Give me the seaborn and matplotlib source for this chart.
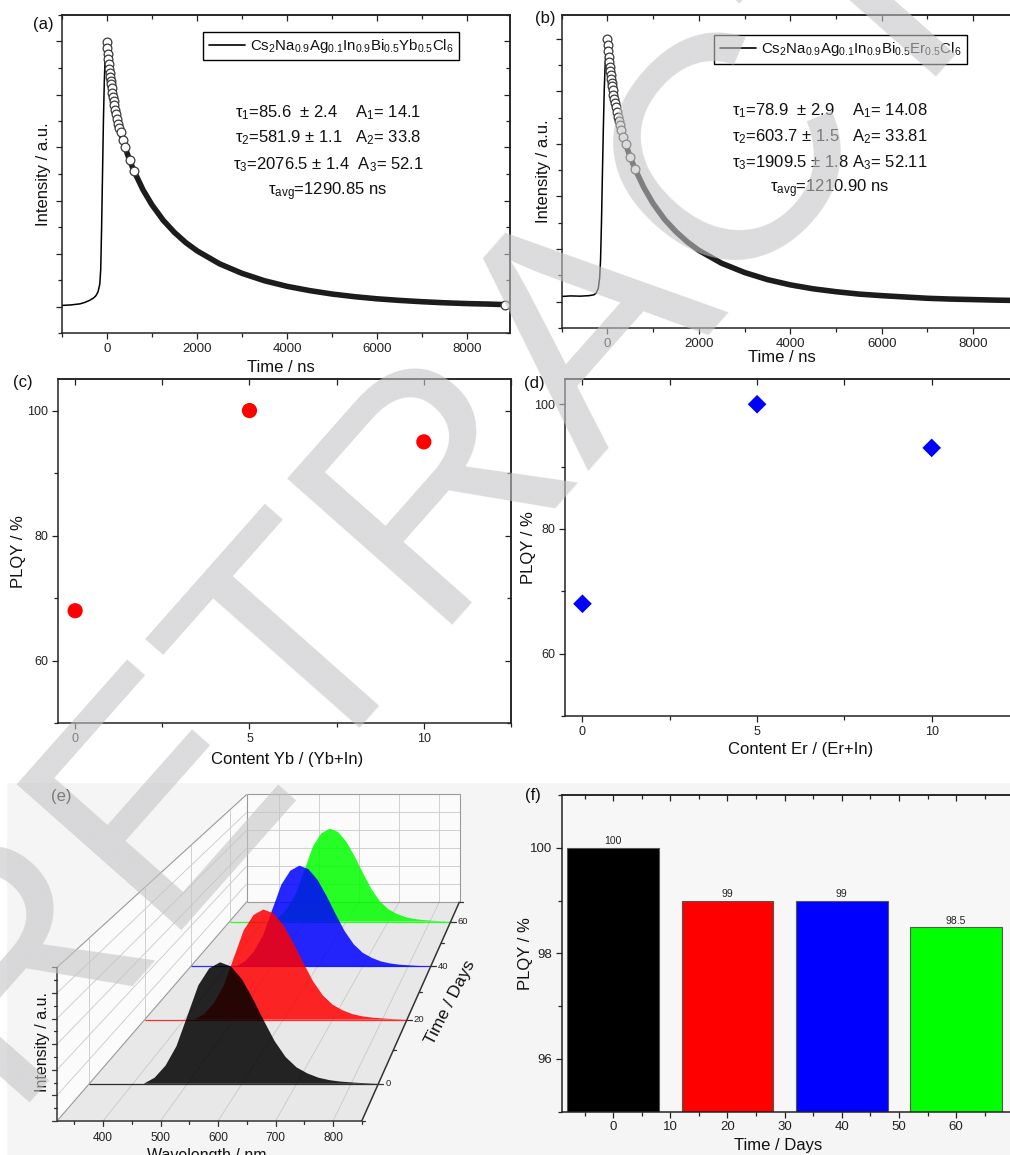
import numpy as np
import pandas as pd
import matplotlib
matplotlib.use("Agg")
import matplotlib.pyplot as plt
from matplotlib.lines import Line2D
from matplotlib.patches import Rectangle
from matplotlib.ticker import MultipleLocator, NullFormatter
import seaborn as sns

# ---------------- data ----------------
# (a)/(b) PL decay, intensity normalised to the peak
decay_time = [0, 10, 20, 30, 40, 50, 60, 70, 80, 90, 100, 115, 130, 145, 160, 180, 200, 225,
              250, 275, 300, 350, 400, 500, 600, 800, 1000, 1250, 1500, 1750, 2000, 2500, 3000,
              3500, 4000, 4500, 5000, 5500, 6000, 6500, 7000, 7500, 8000, 8500, 8850]

a_rise_time = [-1000, -800, -600, -500, -400, -300, -250, -200, -160, -140, -120, -100, -80, -60, -40, -20]
a_rise_int = [0.004, 0.006, 0.010, 0.015, 0.022, 0.032, 0.040, 0.055, 0.085, 0.14, 0.30, 0.50,
              0.70, 0.85, 0.95, 0.99]
a_decay_int = [1.0, 0.976, 0.954, 0.934, 0.915, 0.897, 0.881, 0.866, 0.851, 0.838, 0.825, 0.807,
               0.791, 0.775, 0.761, 0.743, 0.727, 0.707, 0.690, 0.673, 0.657, 0.628, 0.601,
               0.553, 0.511, 0.440, 0.383, 0.325, 0.279, 0.241, 0.210, 0.161, 0.125, 0.097,
               0.076, 0.060, 0.047, 0.037, 0.029, 0.023, 0.018, 0.014, 0.011, 0.009, 0.007]

b_rise_time = [-1000, -800, -600, -400, -300, -250, -200, -170, -150, -130, -110, -90, -70, -50, -30, -15]
b_rise_int = [0.020, 0.022, 0.021, 0.023, 0.026, 0.032, 0.05, 0.09, 0.16, 0.30, 0.48, 0.65, 0.80,
              0.90, 0.96, 0.99]
b_decay_int = [1.0, 0.975, 0.952, 0.931, 0.912, 0.894, 0.877, 0.861, 0.847, 0.833, 0.821, 0.803,
               0.787, 0.771, 0.757, 0.740, 0.723, 0.704, 0.687, 0.670, 0.654, 0.625, 0.598,
               0.549, 0.506, 0.433, 0.373, 0.313, 0.266, 0.227, 0.195, 0.146, 0.111, 0.084,
               0.064, 0.049, 0.038, 0.029, 0.023, 0.018, 0.013, 0.010, 0.008, 0.006, 0.005]

a_legend = r"Cs$_2$Na$_{0.9}$Ag$_{0.1}$In$_{0.9}$Bi$_{0.5}$Yb$_{0.5}$Cl$_6$"
b_legend = r"Cs$_2$Na$_{0.9}$Ag$_{0.1}$In$_{0.9}$Bi$_{0.5}$Er$_{0.5}$Cl$_6$"
a_fit = [r"τ$_1$=85.6  ± 2.4    A$_1$= 14.1",
         r"τ$_2$=581.9 ± 1.1   A$_2$= 33.8",
         r"τ$_3$=2076.5 ± 1.4  A$_3$= 52.1",
         r"τ$_{\mathrm{avg}}$=1290.85 ns"]
b_fit = [r"τ$_1$=78.9  ± 2.9    A$_1$= 14.08",
         r"τ$_2$=603.7 ± 1.5   A$_2$= 33.81",
         r"τ$_3$=1909.5 ± 1.8 A$_3$= 52.11",
         r"τ$_{\mathrm{avg}}$=1210.90 ns"]

# (c)/(d) PLQY vs dopant content
content = [0, 5, 10]
plqy_yb = [68, 100, 95]
plqy_er = [68, 100, 93]

# (e) emission spectra during storage (same shape for every day)
spec_days = [0, 20, 40, 60]
spec_colors = ["#000000", "#ff0000", "#0000ff", "#00ff00"]
spec_wl = [320, 420, 440, 460, 480, 500, 520, 540, 560, 580, 600, 620, 640, 660, 680, 700,
           720, 740, 760, 780, 810, 850]
spec_int = [0.0, 0.0, 0.05, 0.15, 0.31, 0.56, 0.81, 0.95, 1.0, 0.965, 0.86, 0.70, 0.52, 0.35,
            0.22, 0.135, 0.085, 0.05, 0.03, 0.018, 0.008, 0.0]

# (f) PLQY stability
stab_days = [0, 20, 40, 60]
stab_plqy = [100, 99, 99, 98.5]
stab_colors = ["#000000", "#ff0000", "#0000ff", "#00ff00"]

# ---------------- style ----------------
sns.set_theme(style="ticks")
plt.rcParams["font.family"] = ["Liberation Sans", "DejaVu Sans"]
plt.rcParams["mathtext.fontset"] = "custom"
plt.rcParams["mathtext.rm"] = "Liberation Sans"
plt.rcParams["mathtext.it"] = "Liberation Sans:italic"
plt.rcParams["mathtext.bf"] = "Liberation Sans:bold"
plt.rcParams["axes.linewidth"] = 1.1
plt.rcParams["axes.edgecolor"] = "#222222"
plt.rcParams["text.color"] = "#111111"
plt.rcParams["axes.labelcolor"] = "#111111"

W, H = 1010, 1155
fig = plt.figure(figsize=(W / 100, H / 100), dpi=100, facecolor="white")


def box(l, r, t, b):
    return [l / W, 1 - b / H, (r - l) / W, (b - t) / H]


def frame(ax, xmaj, xmin, ymaj, ymin, tick_size, right=True, top_step=None):
    ax.xaxis.set_major_locator(MultipleLocator(xmaj))
    ax.xaxis.set_minor_locator(MultipleLocator(xmin))
    ax.yaxis.set_major_locator(MultipleLocator(ymaj))
    ax.yaxis.set_minor_locator(MultipleLocator(ymin))
    ax.tick_params(which="both", direction="out", width=0.9, color="#222222",
                   labelsize=tick_size, pad=2.5, labelcolor="#222222")
    ax.tick_params(which="major", length=4.5)
    ax.tick_params(which="minor", length=2.6)
    top = ax.secondary_xaxis("top")
    top.xaxis.set_major_locator(MultipleLocator(top_step or xmaj))
    top.xaxis.set_minor_locator(MultipleLocator(xmin))
    top.xaxis.set_major_formatter(NullFormatter())
    top.tick_params(which="both", direction="in", width=0.9, color="#222222")
    top.tick_params(which="major", length=4.5)
    top.tick_params(which="minor", length=2.6)
    if right:
        rt = ax.secondary_yaxis("right")
        rt.yaxis.set_major_locator(MultipleLocator(ymaj))
        rt.yaxis.set_minor_locator(MultipleLocator(ymin))
        rt.yaxis.set_major_formatter(NullFormatter())
        rt.tick_params(which="both", direction="in", width=0.9, color="#222222")
        rt.tick_params(which="major", length=4.5)
        rt.tick_params(which="minor", length=2.6)


def decay_panel(ax, rise_t, rise_i, dec_i, legend, fit, ylim, leg_anchor, text_x, text_y, last_marker):
    df = pd.DataFrame({"t": rise_t + decay_time, "i": rise_i + dec_i})
    sns.lineplot(data=df, x="t", y="i", color="black", lw=1.1, sort=False, ax=ax)
    sns.lineplot(x=decay_time, y=dec_i, color="#1c1c1c", lw=4.0, ax=ax)
    idx = [k for k, t in enumerate(decay_time) if t <= 600]
    if last_marker:
        idx.append(len(decay_time) - 1)
    ax.plot(np.array(decay_time)[idx], np.array(dec_i)[idx], "o", ms=6.3,
            mfc="white", mec="#3a3a3a", mew=0.9, zorder=4)
    ax.set_xlim(-1000, 8950)
    ax.set_ylim(*ylim)
    frame(ax, 2000, 1000, 0.2, 0.1, 9.5, right=last_marker)
    ax.tick_params(axis="y", labelleft=False)
    ax.set_xlabel("Time / ns", fontsize=12)
    ax.set_ylabel("Intensity / a.u.", fontsize=12)
    leg = ax.legend([Line2D([0], [0], color="black", lw=1.2)], [legend], loc="upper right",
                    bbox_to_anchor=leg_anchor, fontsize=10.8, frameon=True, fancybox=False,
                    edgecolor="black", framealpha=1, handlelength=2.4, borderpad=0.35,
                    handletextpad=0.35, borderaxespad=0)
    leg.get_frame().set_linewidth(1.0)
    for line, y in zip(fit, text_y):
        ax.text(text_x, y, line, transform=ax.transAxes, ha="center", va="center", fontsize=12)


# ---- (a)
ax_a = fig.add_axes(box(62, 510, 15, 333))
decay_panel(ax_a, a_rise_time, a_rise_int, a_decay_int, a_legend, a_fit, (-0.1, 1.1),
            (0.886, 0.947), 0.594, [0.692, 0.613, 0.528, 0.443], True)
ax_a.xaxis.set_label_coords(0.489, -0.085)
ax_a.yaxis.set_label_coords(-0.025, 0.5)

# ---- (b)
ax_b = fig.add_axes(box(561.7, 1016.6, 15, 328))
decay_panel(ax_b, b_rise_time, b_rise_int, b_decay_int, b_legend, b_fit, (-0.1, 1.09),
            (0.890, 0.936), 0.59, [0.696, 0.610, 0.527, 0.444], False)
ax_b.xaxis.set_label_coords(0.4836, -0.070)
ax_b.yaxis.set_label_coords(-0.0235, 0.5)

# ---- (c)
ax_c = fig.add_axes(box(57.7, 511, 379.3, 723.3))
sns.scatterplot(x=content, y=plqy_yb, color="#ff0000", s=120, edgecolor="none", ax=ax_c, zorder=3)
ax_c.set_xlim(-0.5, 12.5)
ax_c.set_ylim(50, 105)
frame(ax_c, 5, 2.5, 20, 10, 9, right=True, top_step=2.5)
ax_c.set_xlabel("Content Yb / (Yb+In)", fontsize=12)
ax_c.set_ylabel("PLQY / %", fontsize=12)
ax_c.xaxis.set_label_coords(0.506, -0.0834)
ax_c.yaxis.set_label_coords(-0.07, 0.5)

# ---- (d)
ax_d = fig.add_axes(box(565, 1019, 379.3, 716))
sns.scatterplot(x=content, y=plqy_er, color="#0000ff", marker="D", s=90, edgecolor="none",
                ax=ax_d, zorder=3)
ax_d.set_xlim(-0.5, 12.5)
ax_d.set_ylim(50, 104)
frame(ax_d, 5, 2.5, 20, 10, 9, right=False, top_step=2.5)
ax_d.set_xlabel("Content Er / (Er+In)", fontsize=12)
ax_d.set_ylabel("PLQY / %", fontsize=12)
ax_d.xaxis.set_label_coords(0.518, -0.077)
ax_d.yaxis.set_label_coords(-0.064, 0.5)

# ---- light scanned background of the bottom row
fig.patches.append(Rectangle((7 / W, 0), 1 - 7 / W, (H - 783) / H, transform=fig.transFigure,
                             facecolor="#f5f5f5", edgecolor="none", zorder=-1))

# ---- (f)
ax_f = fig.add_axes(box(561.7, 1011.6, 795, 1111.7))
ax_f.set_facecolor("#f7f7f7")
sns.barplot(x=stab_days, y=stab_plqy, hue=stab_days,
            palette=dict(zip(stab_days, stab_colors)), native_scale=True, width=0.8,
            saturation=1, edgecolor="#555555", linewidth=0.8, legend=False, ax=ax_f)
for cont, val in zip(ax_f.containers, stab_plqy):
    ax_f.bar_label(cont, labels=[f"{val:g}"], fontsize=7.5, padding=1, color="#222222")
ax_f.set_xlim(-9, 69.7)
ax_f.set_ylim(95, 101)
frame(ax_f, 10, 5, 2, 1, 9.5, right=False)
ax_f.set_xlabel("Time / Days", fontsize=12)
ax_f.set_ylabel("PLQY / %", fontsize=12)
ax_f.xaxis.set_label_coords(0.481, -0.083)
ax_f.yaxis.set_label_coords(-0.064, 0.5)

# ---- (e) waterfall drawn in a pixel-space axes with one-point perspective
ax_e = fig.add_axes([0, 0, 505 / W, (H - 780) / H])
ax_e.set_xlim(0, 505)
ax_e.set_ylim(H, 780)
ax_e.axis("off")
VX, VY = 686.0, 394.0
WL0, WL1, D0, D1, Z1 = 320, 850, -10, 70, 1.2


def project(wl, day, inten):
    wl = np.asarray(wl, float)
    inten = np.asarray(inten, float)
    s = 1.0 / (1.0 + 0.0054 * (np.asarray(day, float) - D0))
    x0 = 103.0 + (wl - 400.0) * 0.575
    y0 = 1121.0 - inten * 128.0
    return VX + (x0 - VX) * s, VY + (y0 - VY) * s


def seg(p, q, **kw):
    xs, ys = project([p[0], q[0]], [p[1], q[1]], [p[2], q[2]])
    ax_e.plot(xs, ys, solid_capstyle="butt", **kw)


def quad(pts, **kw):
    xs, ys = project([p[0] for p in pts], [p[1] for p in pts], [p[2] for p in pts])
    ax_e.fill(xs, ys, **kw)


quad([(WL0, D0, 0), (WL1, D0, 0), (WL1, D1, 0), (WL0, D1, 0)], color="#e8e8e8", lw=0, zorder=1)
quad([(WL0, D1, 0), (WL1, D1, 0), (WL1, D1, Z1), (WL0, D1, Z1)], color="#fbfbfb", lw=0, zorder=1)
quad([(WL0, D0, 0), (WL0, D1, 0), (WL0, D1, Z1), (WL0, D0, Z1)], color="#fbfbfb", lw=0, zorder=1)
grid = dict(color="#c9c9c9", lw=0.6, zorder=2)
for wl in range(400, 801, 100):
    seg((wl, D0, 0), (wl, D1, 0), **grid)
    seg((wl, D1, 0), (wl, D1, Z1), **grid)
for z in (0.2, 0.4, 0.6, 0.8, 1.0):
    seg((WL0, D1, z), (WL1, D1, z), **grid)
    seg((WL0, D0, z), (WL0, D1, z), **grid)
for d in spec_days:
    seg((WL0, d, 0), (WL0, d, Z1), **grid)
edge = dict(color="#9a9a9a", lw=0.8, zorder=2)
seg((WL0, D1, Z1), (WL1, D1, Z1), **edge)
seg((WL0, D0, Z1), (WL0, D1, Z1), **edge)
seg((WL0, D1, 0), (WL0, D1, Z1), **edge)
seg((WL1, D1, 0), (WL1, D1, Z1), **edge)
seg((WL0, D1, 0), (WL1, D1, 0), **edge)
seg((WL0, D0, 0), (WL0, D1, 0), **edge)

for d, c in reversed(list(zip(spec_days, spec_colors))):
    xs, ys = project(spec_wl, d, spec_int)
    ax_e.fill(xs, ys, color=c, alpha=0.85, lw=0, zorder=3)
    seg((WL0, d, 0), (WL1, d, 0), color=c, lw=0.9, alpha=0.8, zorder=3)

axis = dict(color="#333333", lw=1.1, zorder=5)
seg((WL0, D0, 0), (WL1, D0, 0), **axis)
seg((WL0, D0, 0), (WL0, D0, Z1), **axis)
seg((WL1, D0, 0), (WL1, D1, 0), **axis)
for wl in range(350, 851, 50):
    x, y = project(wl, D0, 0)
    ln = 5 if wl % 100 == 0 else 3
    ax_e.plot([x, x], [y, y + ln], color="#333333", lw=0.9, zorder=5)
    if wl % 100 == 0 and wl <= 800:
        ax_e.text(x, 1138, str(wl), ha="center", va="center", fontsize=8.6, color="#222222")
for k in range(13):
    x, y = project(WL0, D0, k * 0.1)
    ln = 5 if k % 2 == 0 else 3
    ax_e.plot([x - ln, x], [y, y], color="#333333", lw=0.9, zorder=5)
for d in range(D0, D1 + 1, 10):
    x, y = project(WL1, d, 0)
    ln = 5 if d in spec_days else 3
    ax_e.plot([x, x + ln], [y, y], color="#333333", lw=0.9, zorder=5)
    if d in spec_days:
        ax_e.text(x + 7, y, str(d), ha="left", va="center", fontsize=6.8, color="#222222")
ax_e.text(42, 1042, "Intensity / a.u.", rotation=90, ha="center", va="center", fontsize=11.5)
ax_e.text(207, 1148, "Wavelength / nm", ha="center", va="top", fontsize=11.5, clip_on=False)
ax_e.text(450, 1002, "Time / Days", rotation=63, ha="center", va="center", fontsize=12.5,
          rotation_mode="anchor")

# ---- panel letters
for lab, (px, py) in {"(a)": (43, 25), "(b)": (545, 18), "(c)": (22.5, 382.5),
                      "(d)": (534, 383), "(e)": (61.5, 796), "(f)": (532.5, 795.5)}.items():
    fig.text(px / W, 1 - py / H, lab, ha="center", va="center", fontsize=12, color="#111111")

# ---- retraction watermark
fig.text(589 / W, 1 - 316 / H, "RETRACTED", fontsize=230, rotation=48.5, rotation_mode="anchor",
         ha="center", va="center", color="#c4c4c6", alpha=0.6, zorder=20)

fig.savefig("out.png", dpi=100)
